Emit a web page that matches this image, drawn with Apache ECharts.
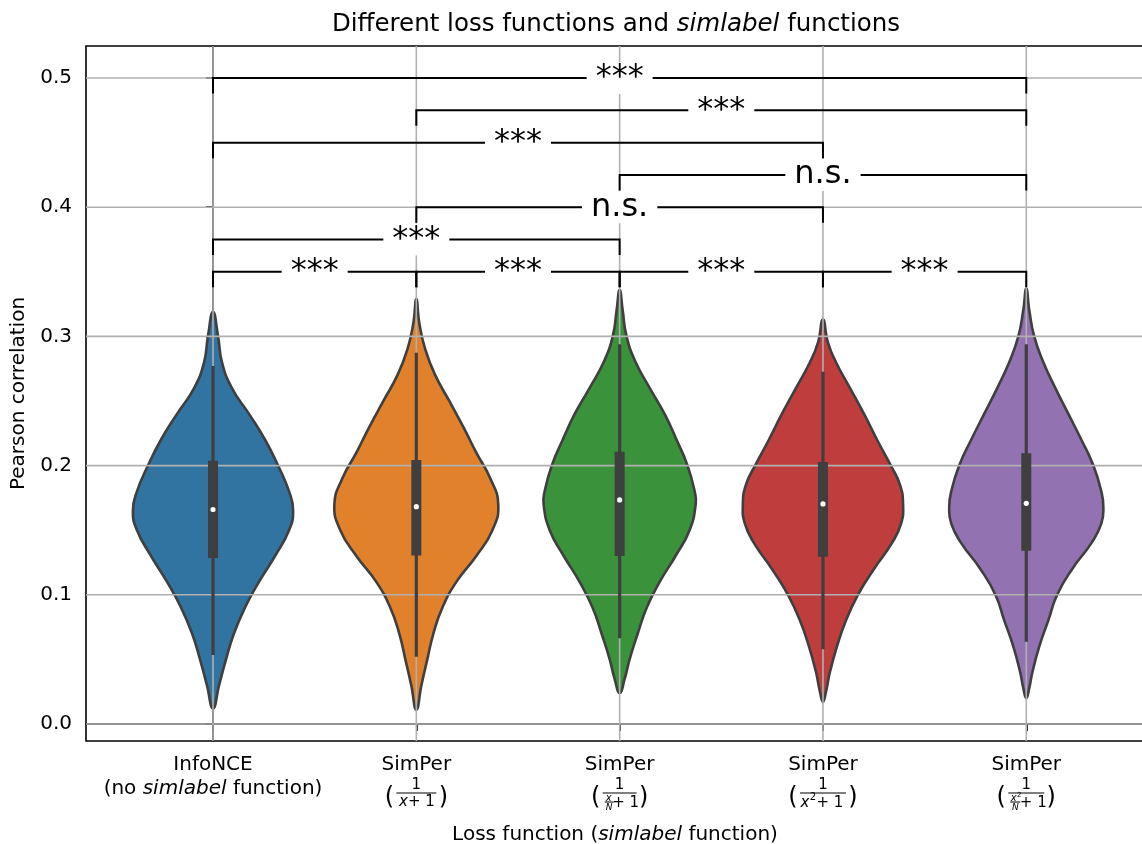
<!DOCTYPE html>
<html>
<head>
<meta charset="utf-8">
<script src="https://cdn.jsdelivr.net/npm/echarts@6/dist/echarts.min.js"></script>
<style>
  html, body { margin: 0; padding: 0; background: #fff; overflow: hidden; }
  #chart { width: 1142px; height: 844px; }
</style>
</head>
<body>
<div id="chart"></div>
<script>
  const FONT = 'DejaVu Sans'
  const categories = ['InfoNCE', 'SimPer', 'SimPer', 'SimPer', 'SimPer']
  const colors = ['#3274a1', '#e1812c', '#3a923a', '#c03d3e', '#9372b2']
  const yTicks = [0, 0.1, 0.2, 0.3, 0.4, 0.5]
  const xPos = [0, 1, 2, 3, 4]

  // violin outline: y values (top to bottom) and half widths in x units
  const violinY = [
    [0.319, 0.30, 0.28, 0.26, 0.24, 0.22, 0.20, 0.18, 0.165, 0.15, 0.13, 0.11, 0.09, 0.07, 0.05, 0.03, 0.012],
    [0.329, 0.31, 0.29, 0.27, 0.25, 0.23, 0.21, 0.19, 0.17, 0.15, 0.13, 0.11, 0.09, 0.07, 0.05, 0.03, 0.011],
    [0.336, 0.32, 0.30, 0.28, 0.26, 0.24, 0.22, 0.20, 0.18, 0.17, 0.15, 0.13, 0.11, 0.09, 0.07, 0.05, 0.035, 0.024],
    [0.313, 0.295, 0.28, 0.26, 0.24, 0.22, 0.20, 0.185, 0.17, 0.155, 0.14, 0.12, 0.10, 0.08, 0.06, 0.04, 0.025, 0.017],
    [0.337, 0.32, 0.30, 0.28, 0.26, 0.24, 0.22, 0.20, 0.18, 0.168, 0.155, 0.14, 0.12, 0.10, 0.08, 0.06, 0.04, 0.028, 0.02]
  ]
  const violinHalf = [
    [0, 0.025, 0.044, 0.093, 0.177, 0.256, 0.320, 0.374, 0.394, 0.374, 0.305, 0.226, 0.157, 0.103, 0.064, 0.030, 0],
    [0, 0.015, 0.044, 0.093, 0.162, 0.231, 0.295, 0.364, 0.403, 0.374, 0.295, 0.197, 0.128, 0.084, 0.054, 0.025, 0],
    [0, 0.015, 0.034, 0.079, 0.148, 0.221, 0.280, 0.334, 0.369, 0.374, 0.344, 0.275, 0.197, 0.133, 0.089, 0.049, 0.025, 0],
    [0, 0.025, 0.064, 0.133, 0.202, 0.266, 0.334, 0.379, 0.394, 0.384, 0.339, 0.251, 0.172, 0.113, 0.069, 0.034, 0.015, 0],
    [0, 0.015, 0.039, 0.084, 0.143, 0.207, 0.271, 0.330, 0.369, 0.379, 0.369, 0.320, 0.226, 0.152, 0.108, 0.064, 0.030, 0.015, 0]
  ]
  // [whisker low, q1, median, q3, whisker high]
  const boxStats = [
    [0.0534, 0.1285, 0.166, 0.2038, 0.277],
    [0.0521, 0.1303, 0.1682, 0.2043, 0.2874],
    [0.0663, 0.13, 0.1734, 0.2108, 0.2939],
    [0.0578, 0.1295, 0.1703, 0.2028, 0.2727],
    [0.0637, 0.1341, 0.1708, 0.2095, 0.2939]
  ]
  // [from, to, label, height]
  const brackets = [
    [0, 1, '***', 0.35], [1, 2, '***', 0.35], [2, 3, '***', 0.35], [3, 4, '***', 0.35],
    [0, 2, '***', 0.375], [1, 3, 'n.s.', 0.40], [2, 4, 'n.s.', 0.425],
    [0, 3, '***', 0.45], [1, 4, '***', 0.475], [0, 4, '***', 0.5]
  ]

  const X_MIN = -0.6247
  const X_MAX = 4.579
  const Y_MIN = -0.0132
  const Y_MAX = 0.5248
  const TIP = 0.012
  const LINE = '#3f3f3f'

  function txt(x, y, s, size, opts) {
    return {
      type: 'text', x: x, y: y,
      style: Object.assign({
        text: s, fontSize: size, fontFamily: FONT, fill: '#000',
        align: 'center', verticalAlign: 'middle'
      }, opts || {})
    }
  }
  function bar(x1, x2, y) {
    return { type: 'line', shape: { x1: x1, y1: y, x2: x2, y2: y }, style: { stroke: '#000', lineWidth: 1 } }
  }
  const IT = { fontStyle: 'italic' }

  // second line of the SimPer tick labels (the simlabel fractions)
  function fractionLabel(i, cx, yb) {
    const els = [txt(cx, yb + 44, '1', 15)]
    let half = 19
    if (i === 1) {
      half = 20
      els.push(txt(cx - 13, yb + 61, 'x', 15, IT), txt(cx + 5, yb + 61, '+ 1', 15))
    } else if (i === 2) {
      half = 17
      els.push(txt(cx - 11, yb + 57, 'x', 10, IT), bar(cx - 15, cx - 6, yb + 61),
        txt(cx - 10.5, yb + 67, 'N', 9, IT), txt(cx + 6, yb + 62, '+ 1', 15))
    } else if (i === 3) {
      half = 23
      els.push(txt(cx - 18, yb + 62, 'x', 15, IT), txt(cx - 10, yb + 56, '2', 10),
        txt(cx + 7, yb + 62, '+ 1', 15))
    } else if (i === 4) {
      half = 18
      els.push(txt(cx - 12.5, yb + 57, 'x', 10, IT), txt(cx - 7, yb + 54, '2', 7),
        bar(cx - 16, cx - 6, yb + 61), txt(cx - 11, yb + 67, 'N', 9, IT),
        txt(cx + 7, yb + 62, '+ 1', 15))
    }
    els.push(bar(cx - half, cx + half, yb + 52))
    els.push(txt(cx - half - 7, yb + 57, '(', 24), txt(cx + half + 7, yb + 57, ')', 24))
    return { type: 'group', children: els }
  }

  const chart = echarts.init(document.getElementById('chart'), null, { renderer: 'canvas', width: 1142, height: 844 })

  chart.setOption({
    animation: false,
    backgroundColor: '#fff',
    textStyle: { fontFamily: FONT },
    graphic: [{
      type: 'text', x: 616, y: 25,
      style: {
        text: 'Different loss functions and {i|simlabel} functions',
        fontSize: 24.5, fontFamily: FONT, fill: '#000', align: 'center', verticalAlign: 'middle',
        rich: { i: { fontSize: 24.5, fontStyle: 'italic', fontFamily: FONT } }
      }
    }],
    grid: {
      left: 86, right: -2, top: 46, bottom: 103,
      outerBoundsMode: 'none', containLabel: false,
      show: true, borderColor: '#000', borderWidth: 1.6, backgroundColor: 'transparent'
    },
    xAxis: {
      type: 'value', min: X_MIN, max: X_MAX,
      name: 'Loss function ({i|simlabel} function)',
      nameLocation: 'middle', nameGap: 84,
      nameTextStyle: {
        fontSize: 20, color: '#000', fontFamily: FONT,
        rich: { i: { fontSize: 20, fontStyle: 'italic', fontFamily: FONT } }
      },
      axisLine: { show: true, lineStyle: { color: '#000', width: 1.6 } },
      axisTick: { show: true, customValues: xPos, length: 7, lineStyle: { color: '#000', width: 1.6 } },
      axisLabel: {
        customValues: xPos, margin: 12, fontSize: 20, lineHeight: 24, color: '#000', fontFamily: FONT,
        formatter: v => v === 0 ? 'InfoNCE\n(no {i|simlabel} function)' : categories[v],
        rich: { i: { fontSize: 20, lineHeight: 24, fontStyle: 'italic', fontFamily: FONT } }
      },
      splitLine: { show: false }
    },
    yAxis: {
      type: 'value', min: Y_MIN, max: Y_MAX,
      name: 'Pearson correlation', nameLocation: 'middle', nameGap: 55,
      nameTextStyle: { fontSize: 20, color: '#000', fontFamily: FONT },
      axisLine: { show: true, lineStyle: { color: '#000', width: 1.6 } },
      axisTick: { show: true, customValues: yTicks, length: 7, lineStyle: { color: '#000', width: 1.6 } },
      axisLabel: {
        customValues: yTicks, margin: 14, fontSize: 20, color: '#000', fontFamily: FONT,
        formatter: v => v.toFixed(1)
      },
      splitLine: { show: false }
    },
    series: [
      {
        // violin bodies
        type: 'custom', z: 1,
        data: xPos.map(i => [i, boxStats[i][2]]),
        renderItem: (params, api) => {
          const i = api.value(0)
          const ys = violinY[i]
          const hw = violinHalf[i]
          const pts = []
          for (let k = 0; k < ys.length; k++) pts.push(api.coord([i + hw[k], ys[k]]))
          for (let k = ys.length - 2; k >= 1; k--) pts.push(api.coord([i - hw[k], ys[k]]))
          return {
            type: 'polygon',
            shape: { points: pts, smooth: 0.5 },
            style: { fill: colors[i], stroke: LINE, lineWidth: 2.6 }
          }
        }
      },
      {
        // grid lines drawn over the violins
        type: 'custom', z: 2, silent: true,
        data: yTicks.map(v => [0, v]).concat(xPos.map(x => [x, 0.25])),
        renderItem: (params, api) => {
          const n = params.dataIndex
          let p1, p2
          if (n < yTicks.length) {
            p1 = api.coord([X_MIN, yTicks[n]]); p2 = api.coord([X_MAX, yTicks[n]])
          } else {
            const x = xPos[n - yTicks.length]
            p1 = api.coord([x, Y_MIN]); p2 = api.coord([x, Y_MAX])
          }
          return {
            type: 'line',
            shape: { x1: p1[0], y1: p1[1], x2: p2[0], y2: p2[1] },
            style: { stroke: '#b0b0b0', lineWidth: 1.6 }
          }
        }
      },
      {
        // inner box plots
        type: 'custom', z: 3,
        data: xPos.map(i => [i, boxStats[i][2]]),
        renderItem: (params, api) => {
          const i = api.value(0)
          const s = boxStats[i]
          const lo = api.coord([i, s[0]]), q1 = api.coord([i, s[1]])
          const md = api.coord([i, s[2]]), q3 = api.coord([i, s[3]]), hi = api.coord([i, s[4]])
          return {
            type: 'group',
            children: [
              { type: 'line', shape: { x1: lo[0], y1: lo[1], x2: hi[0], y2: hi[1] }, style: { stroke: LINE, lineWidth: 3.2 } },
              { type: 'rect', shape: { x: q3[0] - 5, y: q3[1], width: 10, height: q1[1] - q3[1] }, style: { fill: LINE } },
              { type: 'circle', shape: { cx: md[0], cy: md[1], r: 2.6 }, style: { fill: '#fff' } }
            ]
          }
        }
      },
      {
        // significance brackets
        type: 'custom', z: 4,
        data: brackets.map(b => [(b[0] + b[1]) / 2, b[3]]),
        renderItem: (params, api) => {
          const b = brackets[params.dataIndex]
          const a1 = api.coord([b[0], b[3] - TIP]), a2 = api.coord([b[0], b[3]])
          const b2 = api.coord([b[1], b[3]]), b1 = api.coord([b[1], b[3] - TIP])
          const mid = api.coord([(b[0] + b[1]) / 2, b[3]])
          return {
            type: 'group',
            children: [
              { type: 'polyline', shape: { points: [a1, a2, b2, b1] }, style: { stroke: '#000', lineWidth: 2, fill: null } },
              {
                type: 'text', x: mid[0], y: mid[1], z2: 10,
                style: {
                  text: b[2], fontSize: 32, fontFamily: FONT, fill: '#000',
                  align: 'center', verticalAlign: 'middle',
                  backgroundColor: '#fff', padding: [0, 9]
                }
              }
            ]
          }
        }
      },
      {
        // fraction part of the SimPer tick labels
        type: 'custom', z: 5, clip: false, silent: true,
        data: [1, 2, 3, 4].map(i => [i, 0]),
        renderItem: (params, api) => {
          const i = api.value(0)
          const p = api.coord([i, Y_MIN])
          return fractionLabel(i, p[0], p[1])
        }
      }
    ]
  })
</script>
</body>
</html>
